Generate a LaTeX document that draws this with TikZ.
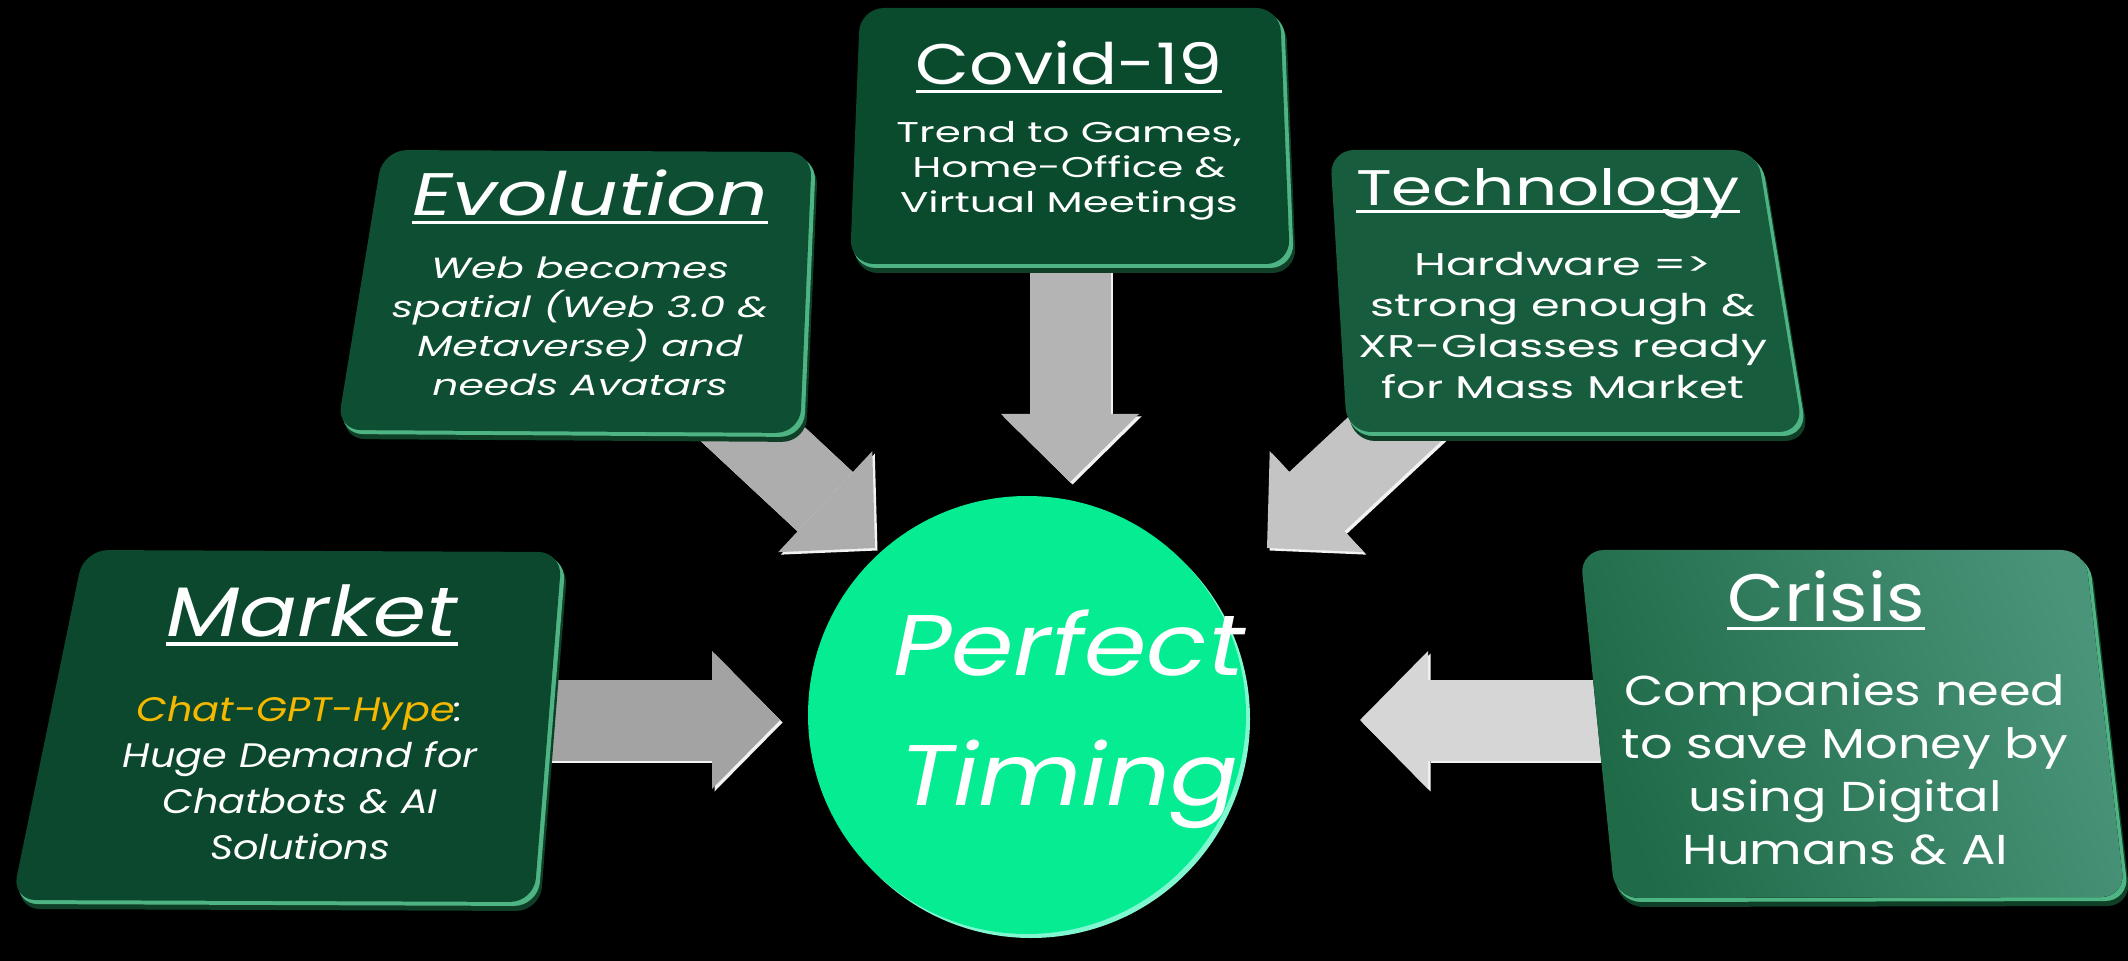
\documentclass[tikz,border=0pt]{standalone}
\usepackage{fontspec}
\setmainfont{Poppins}
% the same face at several widths
\newfontfamily\pA{Poppins}[FakeStretch=1.10]
\newfontfamily\pB{Poppins}[FakeStretch=1.17]
\newfontfamily\pC{Poppins}[FakeStretch=1.22]
\newfontfamily\pD{Poppins}[FakeStretch=1.32]
\newfontfamily\pE{Poppins}[FakeStretch=1.40]
\newfontfamily\pF{Poppins}[FakeStretch=1.47]
\usetikzlibrary{arrows.meta,calc}

\definecolor{mintc}{HTML}{06EC92}
\definecolor{mintrim}{HTML}{7FF7D0}
\definecolor{hypec}{HTML}{F5B800}
\definecolor{mkface}{HTML}{0B482D}
\definecolor{evface}{HTML}{0E4E33}
\definecolor{cvface}{HTML}{0A4A2D}
\definecolor{tcface}{HTML}{185C3E}
\definecolor{crfaceL}{HTML}{1F6A47}
\definecolor{crfaceR}{HTML}{4A957A}
\definecolor{rimhi}{HTML}{4FB483}
\definecolor{rimlo}{HTML}{0F3F27}
\definecolor{arrMk}{HTML}{A3A3A3}
\definecolor{arrEv}{HTML}{ADADAD}
\definecolor{arrCv}{HTML}{B4B4B4}
\definecolor{arrTc}{HTML}{C4C4C4}
\definecolor{arrCr}{HTML}{D6D6D6}
\definecolor{arrhi}{HTML}{F2F2F2}

% underlined heading
\newcommand\ulx[1]{\setbox0=\hbox{#1}\rlap{\rule[-0.14em]{\wd0}{0.055em}}\box0}

% a tilted card: dark slab edge, light bevel, then the face
\newcommand\slab[5]{%
  \fill[rimlo,rounded corners=12pt] ($(#1)+(4,9)$) -- ($(#2)+(6,9)$) -- ($(#3)+(6,9)$) -- ($(#4)+(4,9)$) -- cycle;
  \fill[rimhi,rounded corners=12pt] ($(#1)+(2,4)$) -- ($(#2)+(4,4)$) -- ($(#3)+(4,4)$) -- ($(#4)+(2,4)$) -- cycle;
  \fill[#5,rounded corners=12pt] (#1) -- (#2) -- (#3) -- (#4) -- cycle;}

% block arrow with a light bevel on its lower right edges
\newcommand\barrow[3]{%
  \draw[blockarrow=arrhi] ($(#1)+(2.5,2.5)$) -- ($(#2)+(2.5,2.5)$);
  \draw[blockarrow=#3] (#1) -- (#2);}

\tikzset{
  blockarrow/.style={draw=#1, line width=40.5pt,
    -{Triangle[length=34pt,width=69pt,line width=0pt,fill=#1]}},
  title/.style={text=white, inner sep=0pt, anchor=base},
  body/.style={text=white, inner sep=0pt, align=center},
}

\begin{document}
\begin{tikzpicture}[x=0.5pt,y=-0.5pt]
\fill[black] (0,0) rectangle (2128,961);
\useasboundingbox (0,0) rectangle (2128,961);

% arrow end points
\coordinate (mkTail) at (470,720);  \coordinate (mkTip) at (780,720);
\coordinate (crTail) at (1720,720); \coordinate (crTip) at (1360,720);
\coordinate (cvTail) at (1070,200); \coordinate (cvTip) at (1070,482);
\coordinate (evTail) at (685,371);  \coordinate (evTip) at (875,548);
\coordinate (tcTail) at (1457,371); \coordinate (tcTip) at (1267,548);

% block arrows (tails run under the cards)
\barrow{mkTail}{mkTip}{arrMk}
\barrow{crTail}{crTip}{arrCr}
\barrow{cvTail}{cvTip}{arrCv}
\barrow{evTail}{evTip}{arrEv}
\barrow{tcTail}{tcTip}{arrTc}

% cards
\slab{84,550}{562,552}{534,902}{12,900}{mkface}
\slab{383,150}{812,152}{800,433}{337,430}{evface}
\slab{860,8}{1280,8}{1290,264}{850,264}{cvface}
\slab{1330,150}{1757,150}{1803,432}{1347,432}{tcface}
\slab{1580,550}{2085,550}{2125,897}{1615,898}{left color=crfaceL,right color=crfaceR,shading angle=110}

% centre disc
\node[circle, fill=mintrim, minimum size=219pt, inner sep=0pt] (ptrim) at (1031,719) {};
\node[circle, fill=mintc, minimum size=219pt, inner sep=0pt] (pt) at (1027,715) {};
\node[body, font=\pB\itshape\fontsize{43}{65}\selectfont] (pttxt) at (1069,719) {Perfect\\Timing};

% Market
\node[title, font=\pC\itshape\fontsize{35}{40}\selectfont] (mk) at (312,636) {\ulx{Market}};
\node[body, font=\pB\itshape\fontsize{17}{23}\selectfont] (mkb) at (300,778)
  {\textcolor{hypec}{Chat-GPT-Hype}:\\Huge Demand for\\Chatbots \& AI\\Solutions};

% Evolution
\node[title, font=\pD\itshape\fontsize{30}{34}\selectfont] (ev) at (590,216) {\ulx{Evolution}};
\node[body, font=\pE\itshape\fontsize{14.6}{19.5}\selectfont] (evb) at (580,326)
  {Web becomes\\spatial (Web 3.0 \&\\Metaverse) and\\needs Avatars};

% Covid-19
\node[title, font=\pC\fontsize{28.6}{32}\selectfont] (cv) at (1069,85) {\ulx{Covid-19}};
\node[body, font=\pF\fontsize{14.3}{17.5}\selectfont] (cvb) at (1069,171)
  {Trend to Games,\\Home-Office \&\\Virtual Meetings};

% Technology
\node[title, font=\pD\fontsize{25}{30}\selectfont] (tc) at (1548,206) {\ulx{Technology}};
\node[body, font=\pF\fontsize{15.7}{20.5}\selectfont] (tcb) at (1563,326)
  {Hardware =>\\strong enough \&\\XR-Glasses ready\\for Mass Market};

% Crisis
\node[title, font=\pA\fontsize{33.5}{38}\selectfont] (cr) at (1826,621) {\ulx{Crisis}};
\node[body, font=\pC\fontsize{20.9}{26.5}\selectfont] (crb) at (1845,769)
  {Companies need\\to save Money by\\using Digital\\Humans \& AI};
\end{tikzpicture}
\end{document}
